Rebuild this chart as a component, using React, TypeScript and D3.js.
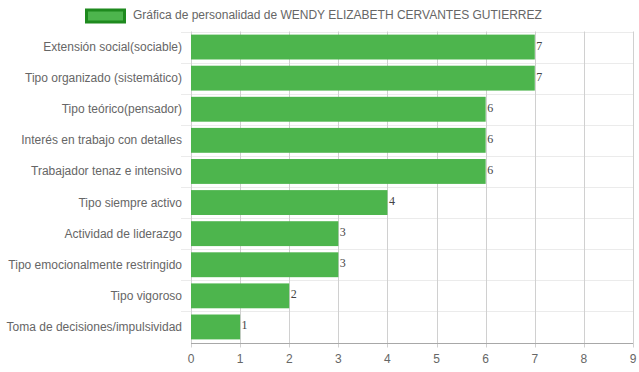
import React from 'react';
import * as d3 from 'd3';

const categories = [
  'Extensión social(sociable)',
  'Tipo organizado (sistemático)',
  'Tipo teórico(pensador)',
  'Interés en trabajo con detalles',
  'Trabajador tenaz e intensivo',
  'Tipo siempre activo',
  'Actividad de liderazgo',
  'Tipo emocionalmente restringido',
  'Tipo vigoroso',
  'Toma de decisiones/impulsividad',
];
const values = [7, 7, 6, 6, 6, 4, 3, 3, 2, 1];
const xTicks = [0, 1, 2, 3, 4, 5, 6, 7, 8, 9];
const seriesLabel = 'Gráfica de personalidad de WENDY ELIZABETH CERVANTES GUTIERREZ';

const W = 639;
const H = 372;
const font = '"Liberation Sans", Arial, Helvetica, sans-serif';

const App = () => {
  const x = d3.scaleLinear().domain([0, 9]).range([191, 633]);
  const y = d3.scaleBand<string>().domain(categories).range([31.5, 342.5]);
  const bw = y.bandwidth();
  const barH = bw * 0.8;
  const bottom = y.range()[1];
  const top = y.range()[0];
  const bounds = categories.map((c) => y(c) as number).concat([bottom]);

  return (
    <svg width={W} height={H} style={{ position: 'absolute', left: 0, top: 0 }}>
      {/* legend */}
      <rect x={86.5} y={10} width={38} height={12} fill="#4db54d" stroke="#1e8a1e" strokeWidth={3} />
      <text x={133} y={19} fontFamily={font} fontSize={12} fill="#666">{seriesLabel}</text>

      {/* horizontal grid */}
      {bounds.slice(0, -1).map((b, i) => (
        <line key={'h' + i} x1={181} x2={633} y1={Math.round(b) + 0.5} y2={Math.round(b) + 0.5} stroke="#ebebeb" strokeWidth={1} />
      ))}
      {/* vertical grid */}
      {xTicks.map((t) => (
        <line key={'v' + t} x1={Math.round(x(t)) + 0.5} x2={Math.round(x(t)) + 0.5} y1={top} y2={bottom + 5} stroke="#d0d0d0" strokeWidth={1} />
      ))}
      {/* x axis line */}
      <line x1={191} x2={633} y1={Math.round(bottom) + 0.5} y2={Math.round(bottom) + 0.5} stroke="#a8a8a8" strokeWidth={1} />

      {/* bars */}
      {categories.map((c, i) => {
        const cy = (y(c) as number) + bw / 2;
        return (
          <g key={c}>
            <rect x={x(0)} y={cy - barH / 2} width={x(values[i]) - x(0)} height={barH} fill="#4db54d" />
            <text x={x(values[i]) + 1.5} y={cy + 2.5} fontFamily='"Liberation Serif", "Times New Roman", serif' fontSize={12} fill="#444">
              {values[i]}
            </text>
            <text x={182} y={cy + 4} textAnchor="end" fontFamily={font} fontSize={12} fill="#666">{c}</text>
          </g>
        );
      })}

      {/* x tick labels */}
      {xTicks.map((t) => (
        <text key={'t' + t} x={x(t)} y={363} textAnchor="middle" fontFamily={font} fontSize={12} fill="#666">{t}</text>
      ))}
    </svg>
  );
};

export default App;
